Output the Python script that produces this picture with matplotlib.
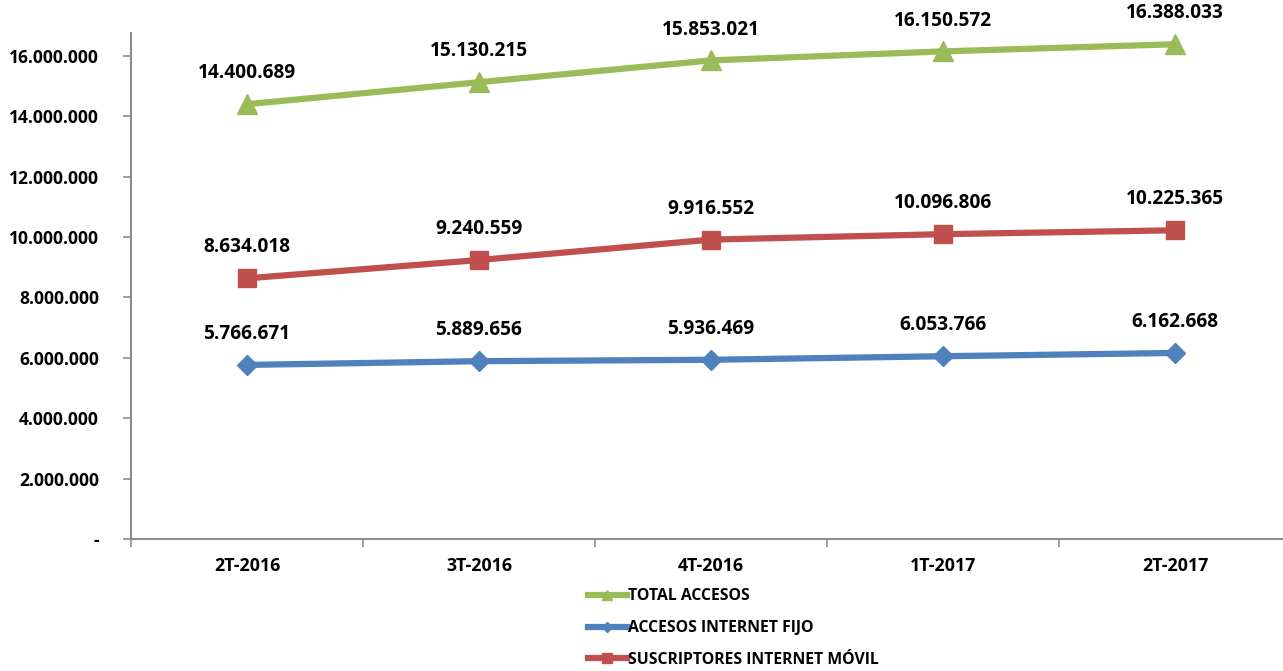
import matplotlib
matplotlib.use('Agg')
import matplotlib.pyplot as plt
from matplotlib.ticker import FuncFormatter

GREEN = '#9BBB59'; BLUE = '#4F81BD'; RED = '#C0504D'; AXIS = '#8C8C8C'
plt.rcParams.update({'font.family': ['Open Sans', 'DejaVu Sans'], 'font.weight': 'bold'})

periods = ['2T-2016', '3T-2016', '4T-2016', '1T-2017', '2T-2017']
total = [14400689, 15130215, 15853021, 16150572, 16388033]
fijo = [5766671, 5889656, 5936469, 6053766, 6162668]
movil = [8634018, 9240559, 9916552, 10096806, 10225365]

def fmt(v):
    return f'{v:,.0f}'.replace(',', '.')

fig = plt.figure(figsize=(12.83, 6.71), dpi=100)
ax = fig.add_axes([131/1283, 132/671, 1160/1283, 506/671])
x = list(range(len(periods)))

series = [('TOTAL ACCESOS', total, GREEN, '^', 15),
          ('ACCESOS INTERNET FIJO', fijo, BLUE, 'D', 10),
          ('SUSCRIPTORES INTERNET MÓVIL', movil, RED, 's', 13)]
handles = []
for name, vals, col, mk, ms in series:
    h, = ax.plot(x, vals, color=col, lw=4.5, marker=mk, markersize=ms, label=name, clip_on=False)
    handles.append(h)
    for xi, v in zip(x, vals):
        ax.annotate(fmt(v), (xi, v), xytext=(0, 15), textcoords='offset points',
                    ha='center', va='bottom', fontsize=13.8, fontweight='bold')

ax.set_xlim(-0.5, 4.5)
ax.set_ylim(0, 16760000)
ax.set_yticks(range(0, 16000001, 2000000))
ax.yaxis.set_major_formatter(FuncFormatter(lambda v, p: '-' if v == 0 else fmt(v)))
ax.set_xticks(x)
ax.set_xticklabels(periods)
ax.set_xticks([i - 0.5 for i in range(6)], minor=True)
ax.tick_params(axis='x', which='major', length=0, pad=13, labelsize=12.8)
ax.tick_params(axis='x', which='minor', length=6, color=AXIS, width=1.2)
ax.tick_params(axis='y', length=6, color=AXIS, width=1.2, labelsize=12.6, pad=17)
for s in ['top', 'right']:
    ax.spines[s].set_visible(False)
for s in ['left', 'bottom']:
    ax.spines[s].set_color(AXIS)
    ax.spines[s].set_linewidth(1.5)

leg = fig.legend(handles=handles, loc='center left', bbox_to_anchor=(580/1283, 43/671), frameon=False,
                 fontsize=11.3, handlelength=2.5, handletextpad=0.05, labelspacing=1.0,
                 markerscale=0.5, borderpad=0)

fig.savefig('out.png', dpi=100)
